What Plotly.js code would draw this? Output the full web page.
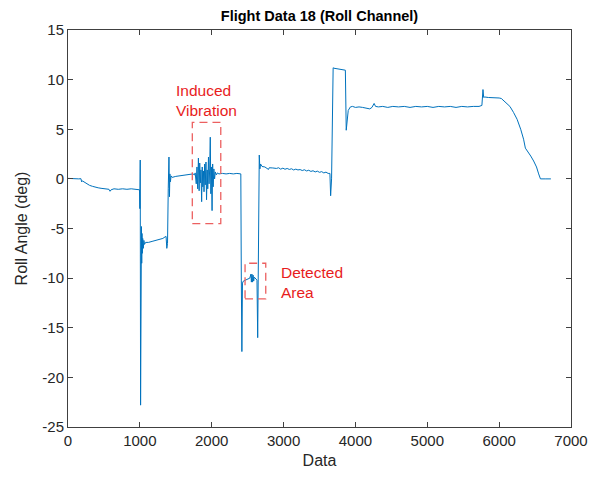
<!DOCTYPE html>
<html>
<head>
<meta charset="utf-8">
<script src="https://cdn.plot.ly/plotly-3.0.1.min.js"></script>
<style>html,body{margin:0;padding:0;background:#fff;}#chart{width:609px;height:480px;}</style>
</head>
<body>
<div id="chart"></div>
<script>
// Sample index (x) and roll angle in degrees (y)
const sampleIndex = [
  0, 50, 100, 150, 180, 190, 200, 230, 260, 300, 340, 380, 420, 460, 500, 540, 570, 585, 600, 640, 700, 760, 820, 880, 940, 985,
  995, 1000, 1005, 1010, 1014, 1018, 1022, 1026, 1030, 1035, 1040, 1048, 1056, 1065, 1080, 1120, 1170, 1220, 1270, 1320, 1350, 1365, 1375, 1385, 1395, 1405, 1412, 1418, 1425, 1435, 1450, 1500, 1550, 1600, 1650, 1700, 1740, 1760,
  1770, 1785, 1795, 1805, 1815, 1825, 1833, 1842, 1850, 1860, 1868, 1876, 1885, 1893, 1902, 1910, 1920, 1928, 1937, 1945, 1955, 1963, 1972, 1980, 1988, 1996, 2005, 2013, 2020, 2030, 2040, 2050, 2065, 2080, 2100, 2150, 2200, 2250, 2300, 2350, 2395,
  2405, 2412, 2420, 2428, 2440, 2470, 2500, 2530, 2545, 2552, 2560, 2568, 2576, 2584, 2592, 2610, 2630, 2640, 2652, 2662, 2670, 2680, 2700, 2740, 2790, 2800, 2850,
  2900, 2930, 2960, 2990, 3020, 3050, 3080, 3110, 3140, 3170, 3200, 3230, 3260, 3290, 3320, 3350, 3380, 3410, 3440, 3470, 3500, 3530, 3560, 3590, 3620, 3645, 3655, 3668, 3680, 3690,
  3700, 3750, 3800, 3860, 3872, 3885, 3900, 3930, 3960, 4000, 4050, 4100, 4160, 4200, 4230, 4260, 4280, 4320, 4380,
  4450, 4520, 4600, 4680, 4760, 4840, 4920, 5000, 5080, 5160, 5240, 5320, 5400, 5480, 5560, 5640, 5720, 5760, 5775, 5785, 5800, 5850, 5900, 5950, 6000, 6030,
  6080, 6150, 6200, 6250, 6300, 6340, 6365, 6375, 6400, 6440, 6480, 6520, 6550, 6575, 6650, 6720
];
const rollAngle = [
  0.05, 0.02, 0.05, 0.0, 0.02, -0.3, -0.2, -0.35, -0.5, -0.65, -0.75, -0.85, -0.9, -0.95, -1.0, -1.0, -1.05, -1.25, -1.1, -1.0, -1.05, -1.0, -1.05, -1.0, -1.05, -1.1,
  -1.1, -3.0, 1.9, -22.8, -5.2, -10.5, -4.8, -8.5, -5.5, -7.5, -6.0, -7.0, -6.2, -6.6, -6.4, -6.4, -6.3, -6.2, -6.1, -6.0, -5.85, -5.8, -7.0, -6.5, -1.0, 2.2, -1.8, 0.5, -0.3, 0.3, 0.15, 0.25, 0.3, 0.35, 0.4, 0.45, 0.5, 0.4,
  0.6, -0.5, 1.2, -1.0, 2.1, -1.2, 1.6, -0.4, 0.9, -2.3, 1.2, -0.8, 0.8, -1.3, 1.5, -0.6, 1.7, -2.1, 0.9, -1.0, 2.2, -0.5, 1.0, 4.2, -1.5, 1.2, -3.2, 1.5, -0.8, 1.0, 0.0, 0.7, 0.4, 0.6, 0.5, 0.55, 0.5, 0.55, 0.5, 0.55, 0.5,
  0.5, -10.2, -17.4, -10.5, -10.3, -10.2, -10.1, -10.0, -9.6, -10.4, -9.6, -10.4, -9.7, -10.3, -9.9, -10.1, -10.2, -16.0, -3.0, 2.4, 1.0, 1.5, 1.25, 1.2, 0.95, 1.12, 1.1,
  1.05, 1.12, 0.98, 1.08, 0.97, 1.05, 0.95, 1.02, 0.9, 0.98, 0.9, 0.94, 0.84, 0.92, 0.8, 0.87, 0.75, 0.82, 0.7, 0.78, 0.66, 0.73, 0.6, 0.68, 0.55, 0.55, -1.7, 0.0, 9.8, 11.2,
  11.15, 11.1, 11.05, 10.95, 4.9, 6.0, 6.9, 7.25, 7.3, 7.2, 7.25, 7.2, 7.1, 7.05, 7.2, 7.6, 7.3, 7.25, 7.3,
  7.2, 7.3, 7.25, 7.3, 7.2, 7.3, 7.25, 7.3, 7.2, 7.3, 7.25, 7.3, 7.2, 7.3, 7.25, 7.3, 7.3, 7.4, 9.0, 8.2, 8.25, 8.2, 8.2, 8.2, 8.15, 8.1,
  7.8, 7.3, 6.7, 6.0, 5.0, 4.0, 3.1, 3.0, 2.7, 2.3, 1.8, 1.2, 0.5, 0.0, 0.0, 0.0
];
const xTicks = [0, 1000, 2000, 3000, 4000, 5000, 6000, 7000];
const yTicks = [-25, -20, -15, -10, -5, 0, 5, 10, 15];
// Annotation boxes: [x0, x1, y0, y1]
const vibrationBox = [1730, 2126, -4.5, 5.7];
const detectedBox = [2464, 2752, -12.1, -8.5];

const boxLine = {color: 'rgb(236,96,96)', width: 1.3, dash: '8px,5px'};
const annColor = 'rgb(232,28,28)';
const fontFam = '"Liberation Sans", Arial, sans-serif';

const data = [{
  x: sampleIndex, y: rollAngle, type: 'scatter', mode: 'lines',
  line: {color: '#0072BD', width: 1}, hoverinfo: 'x+y', showlegend: false
}];

const axisCommon = {
  showline: true, linecolor: '#404040', linewidth: 1, mirror: 'ticks',
  ticks: 'inside', ticklen: 5, tickcolor: '#404040', showgrid: false, zeroline: false,
  tickfont: {family: fontFam, size: 15, color: '#262626'}
};

const layout = {
  width: 609, height: 480,
  margin: {l: 68, r: 38, t: 30, b: 53},
  paper_bgcolor: '#ffffff', plot_bgcolor: '#ffffff',
  font: {family: fontFam, color: '#262626'},
  title: {text: '<b>Flight Data 18 (Roll Channel)</b>', font: {family: fontFam, size: 14.5, color: '#000000'},
          xref: 'paper', x: 0.5, xanchor: 'center', yref: 'container', y: 0.966, yanchor: 'middle'},
  xaxis: Object.assign({}, axisCommon, {range: [0, 7000], tickvals: xTicks, ticktext: xTicks.map(String),
          title: {text: 'Data', font: {family: fontFam, size: 16, color: '#262626'}, standoff: 6}}),
  yaxis: Object.assign({}, axisCommon, {range: [-25, 15], tickvals: yTicks, ticktext: yTicks.map(String),
          title: {text: 'Roll Angle (deg)', font: {family: fontFam, size: 16, color: '#262626'}, standoff: 10}}),
  shapes: [
    {type: 'rect', xref: 'x', yref: 'y', x0: vibrationBox[0], x1: vibrationBox[1], y0: vibrationBox[2], y1: vibrationBox[3], line: boxLine},
    {type: 'rect', xref: 'x', yref: 'y', x0: detectedBox[0], x1: detectedBox[1], y0: detectedBox[2], y1: detectedBox[3], line: boxLine}
  ],
  annotations: [
    {x: 1480, y: 7.9, xref: 'x', yref: 'y', text: 'Induced<br>Vibration', showarrow: false, xanchor: 'left', yanchor: 'middle', align: 'left',
     font: {family: fontFam, size: 15.5, color: annColor}},
    {x: 2940, y: -10.45, xref: 'x', yref: 'y', text: 'Detected<br>Area', showarrow: false, xanchor: 'left', yanchor: 'middle', align: 'left',
     font: {family: fontFam, size: 15.5, color: annColor}}
  ]
};

Plotly.newPlot('chart', data, layout, {staticPlot: true, displayModeBar: false});
</script>
</body>
</html>
